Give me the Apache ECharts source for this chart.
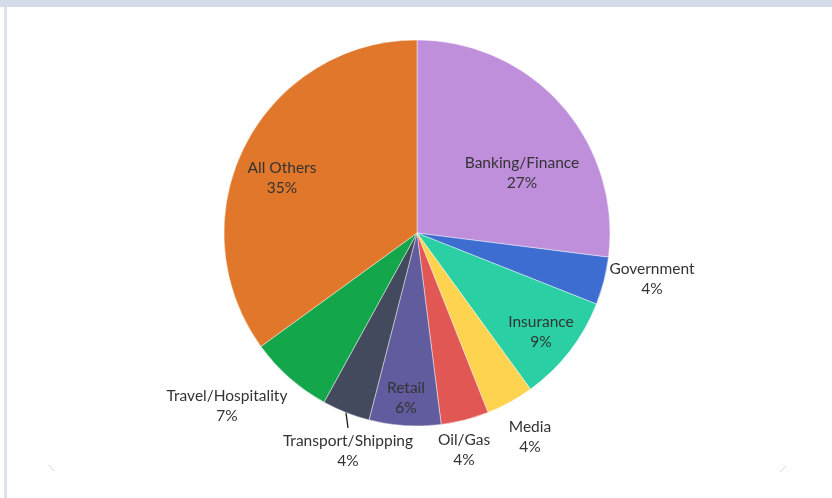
<!DOCTYPE html>
<html>
<head>
<meta charset="utf-8">
<script src="https://cdn.jsdelivr.net/npm/echarts@6/dist/echarts.min.js"></script>
<style>
  html, body { margin: 0; padding: 0; background: #ffffff; }
  #frame { position: absolute; left: 0; top: 0; width: 832px; height: 498px; background: #ffffff; }
  #topBand { position: absolute; left: 0; top: 0; width: 832px; height: 7px; background: #d5dce9; }
  #leftBand { position: absolute; left: 4px; top: 7px; width: 3px; height: 491px; background: #dde3ee; }
  #chart { position: absolute; left: 0; top: 0; width: 832px; height: 498px; }
</style>
</head>
<body>
<div id="frame"></div>
<div id="chart"></div>
<div id="topBand"></div>
<div id="leftBand"></div>
<script>
// Industry share of the total, clockwise from 12 o'clock
const categories = [
  'Banking/Finance', 'Government', 'Insurance', 'Media', 'Oil/Gas',
  'Retail', 'Transport/Shipping', 'Travel/Hospitality', 'All Others'
];
const shares = [27, 4, 9, 4, 4, 6, 4, 7, 35];

// Slice fills
const sliceColors = {
  'Banking/Finance': '#bf8fdb',
  'Government': '#3d6dd1',
  'Insurance': '#2bcfa4',
  'Media': '#fdd34f',
  'Oil/Gas': '#e05754',
  'Retail': '#615c9e',
  'Transport/Shipping': '#434a5d',
  'Travel/Hospitality': '#14a64a',
  'All Others': '#e0772a'
};

// Where each two-line label sits (centre of the text block)
const labelSpots = {
  'Banking/Finance': [522, 173],
  'Government': [652, 279],
  'Insurance': [541, 332],
  'Media': [530, 437],
  'Oil/Gas': [464, 450],
  'Retail': [406, 398],
  'Transport/Shipping': [348, 451],
  'Travel/Hospitality': [227, 406],
  'All Others': [282, 178]
};

const chart = echarts.init(document.getElementById('chart'), null, { renderer: 'canvas' });

const seriesData = categories.map((name, i) => ({
  name: name,
  value: shares[i],
  itemStyle: { color: sliceColors[name] },
  labelLine: { show: name === 'Transport/Shipping' }
}));

chart.setOption({
  animation: false,
  backgroundColor: 'transparent',
  series: [{
    type: 'pie',
    center: [417, 233],
    radius: [0, 193],
    startAngle: 90,
    clockwise: true,
    avoidLabelOverlap: false,
    data: seriesData,
    itemStyle: {
      borderColor: 'rgba(255,255,255,0.55)',
      borderWidth: 0.8
    },
    label: {
      show: true,
      position: 'outside',
      formatter: p => p.name + '\n' + p.value + '%',
      fontFamily: 'Lato, "Open Sans", sans-serif',
      fontSize: 15.5,
      lineHeight: 20,
      color: '#333333',
      align: 'center'
    },
    labelLine: {
      length: 10,
      length2: 0,
      lineStyle: { color: '#1a1a1a', width: 1.3 }
    },
    emphasis: { disabled: true }
  }],
  graphic: [
    { type: 'line', shape: { x1: 49, y1: 465, x2: 54, y2: 471 }, style: { stroke: '#d6d6d6', lineWidth: 1 } },
    { type: 'line', shape: { x1: 786, y1: 466, x2: 780, y2: 472 }, style: { stroke: '#d6d6d6', lineWidth: 1 } }
  ]
});

// Place each label at its spot; the Transport/Shipping leader drops from the
// slice's outer edge at its mid-angle down to the top of its text
const pieData = chart.getModel().getSeriesByIndex(0).getData();
chart.setOption({
  series: [{
    labelLayout: function (params) {
      const name = categories[params.dataIndex];
      const spot = labelSpots[name];
      const blockTop = spot[1] - params.labelRect.height / 2;
      const out = {
        x: spot[0],
        y: blockTop,
        align: 'center',
        verticalAlign: 'top'
      };
      if (name === 'Transport/Shipping') {
        const lay = pieData.getItemLayout(params.dataIndex);
        const mid = (lay.startAngle + lay.endAngle) / 2;
        const ex = lay.cx + lay.r * Math.cos(mid);
        const ey = lay.cy + lay.r * Math.sin(mid);
        const endY = blockTop - 3;
        out.labelLinePoints = [[ex, ey], [spot[0], endY], [spot[0], endY]];
      }
      return out;
    }
  }]
});
</script>
</body>
</html>
